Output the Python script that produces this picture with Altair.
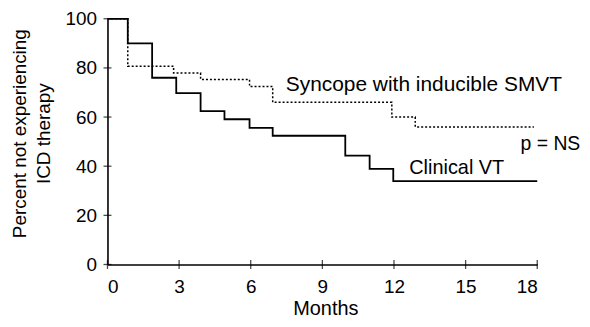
import altair as alt
import pandas as pd

# Kaplan-Meier style curves (months, percent not experiencing ICD therapy)
months_vt = [0, 0.85, 1.87, 2.88, 3.9, 4.9, 5.95, 6.92, 9.96, 10.98, 11.97, 18]
pct_vt = [100, 90, 76, 69.7, 62.4, 59.1, 55.6, 52.4, 44.3, 38.9, 33.9, 33.9]
months_sync = [0, 0.85, 2.77, 3.9, 5.95, 6.92, 11.91, 12.89, 17.86]
pct_sync = [100, 80.7, 77.9, 75.3, 72.4, 66, 60, 56, 56]

x_ticks = [0, 3, 6, 9, 12, 15, 18]
y_ticks = [0, 20, 40, 60, 80, 100]

ann_text = ["Syncope with inducible SMVT", "Clinical VT", "p = NS"]
ann_month = [7.47, 12.64, 17.3]
ann_pct = [70.8, 36.7, 46.7]

FONT = "Liberation Sans"
H = 247

xscale = alt.Scale(domain=[0, 18], nice=False, zero=True)
yscale = alt.Scale(domain=[0, 100], nice=False, zero=True)

df_vt = pd.DataFrame({"m": months_vt, "p": pct_vt})
df_sync = pd.DataFrame({"m": months_sync, "p": pct_sync})

x_axis = alt.Axis(values=x_ticks, title="Months", titleY=50, titleX=219,
                  titleBaseline="alphabetic", titleFontSize=20, titleFontWeight="normal",
                  titleFont=FONT, labelFont=FONT, titleColor="black", labelColor="black",
                  labelFontSize=19, labelPadding=13, ticks=False, tickSize=0,
                  domainColor="black", domainWidth=1.6, grid=False)
y_axis = alt.Axis(values=y_ticks, title=["Percent not experiencing", "ICD therapy"],
                  titleAngle=-90, titleX=-97.5, titleY=115, titleBaseline="top",
                  titleAlign="center", titleFontSize=19, titleLineHeight=24.5,
                  titleFontWeight="normal",
                  titleFont=FONT, labelFont=FONT, titleColor="black", labelColor="black",
                  labelFontSize=19, labelPadding=11, ticks=False, tickSize=0,
                  domainColor="black", domainWidth=1.6, grid=False)

X = alt.X("m:Q", scale=xscale, axis=x_axis, title="Months")
Y = alt.Y("p:Q", scale=yscale, axis=y_axis, title=["Percent not experiencing", "ICD therapy"])

solid = alt.Chart(df_vt).mark_line(interpolate="step-after", color="black",
                                   strokeWidth=1.8).encode(x=X, y=Y)
dotted = alt.Chart(df_sync).mark_line(interpolate="step-after", color="black", strokeWidth=1.5,
                                      strokeDash=[2, 2]).encode(x=X, y=Y)

yt = alt.Chart(pd.DataFrame({"p": y_ticks})).mark_tick(
    orient="horizontal", size=8, thickness=1.3, color="black").encode(
    y=Y, x=alt.value(0))
xt = alt.Chart(pd.DataFrame({"m": x_ticks})).mark_tick(
    orient="vertical", size=9, thickness=1.3, color="black").encode(
    x=X, y=alt.value(H))

sizes = [21, 20, 19.5]
texts = []
for t, mx, py, fs in zip(ann_text, ann_month, ann_pct, sizes):
    texts.append(alt.Chart(pd.DataFrame({"t": [t], "m": [mx], "p": [py]})).mark_text(
        align="left", baseline="alphabetic", font=FONT, fontSize=fs, color="black").encode(
        x=X, y=Y, text="t:N"))

chart = alt.layer(solid, dotted, yt, xt, *texts).properties(
    width=432, height=H,
    autosize="none",
    background="white",
    padding={"left": 100, "top": 10, "right": 45, "bottom": 60},
).configure(
    style={"cell": {"stroke": "transparent", "strokeWidth": 0}}
).configure_view(stroke="transparent", strokeWidth=0, strokeOpacity=0).configure_axis(
    grid=False, gridOpacity=0)

chart.save("out.html", embed_options={"renderer": "svg", "actions": False})
